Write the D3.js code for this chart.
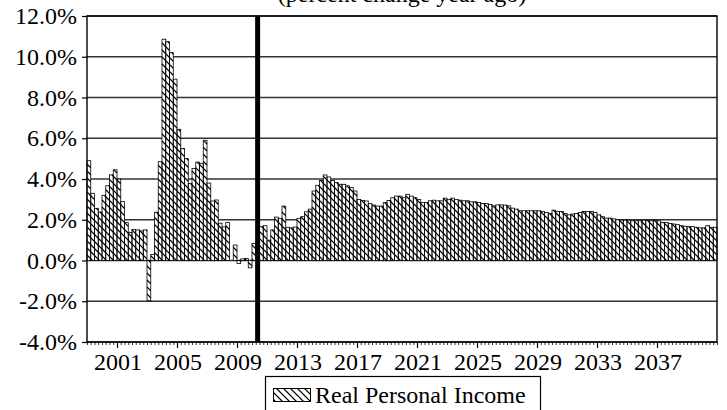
<!DOCTYPE html>
<html><head><meta charset="utf-8">
<script src="https://cdn.jsdelivr.net/npm/d3@7"></script>
<style>body{margin:0;background:#fff}</style>
</head><body><svg id="c" width="727" height="410"></svg>
<script>
// ---------- data ----------
const years = d3.range(1999, 2041);
const quarters = years.flatMap(yr => [1, 2, 3, 4].map(q => yr + "Q" + q));
const realIncome = [
  // 1999-2002
  4.9, 3.3, 2.56, 2.38, 3.2, 3.67, 4.2, 4.45, 4.0, 2.89, 1.86, 1.38, 1.53, 1.5, 1.45, 1.5,
  // 2003-2006
  -1.97, 0.3, 2.37, 4.85, 10.86, 10.74, 10.2, 8.9, 6.44, 5.5, 5.0, 3.78, 4.52, 4.83, 4.77, 5.9,
  // 2007-2010
  3.8, 2.92, 2.97, 1.83, 1.65, 1.86, 0.0, 0.76, -0.15, 0.08, 0.1, -0.36, 0.84, null, 1.66, 1.71,
  // 2011-2014
  1.0, 1.5, 2.13, 2.07, 2.67, 1.63, 1.6, 1.64, 2.07, 2.15, 2.39, 2.52, 3.41, 3.69, 3.93, 4.2,
  // 2015-2018
  4.1, 3.93, 3.82, 3.74, 3.74, 3.66, 3.58, 3.41, 3.0, 2.95, 2.92, 2.79, 2.72, 2.67, 2.67, 2.84,
  // 2019-2022
  2.95, 3.08, 3.16, 3.16, 3.08, 3.25, 3.16, 3.08, 3.0, 2.84, 2.84, 2.93, 2.96, 2.93, 2.93, 3.06,
  // 2023-2026
  3.0, 3.06, 3.0, 2.96, 2.93, 2.93, 2.88, 2.88, 2.85, 2.8, 2.8, 2.75, 2.68, 2.73, 2.73, 2.72,
  // 2027-2030
  2.68, 2.57, 2.52, 2.44, 2.44, 2.44, 2.44, 2.44, 2.44, 2.41, 2.36, 2.31, 2.47, 2.41, 2.41, 2.31,
  // 2031-2034
  2.24, 2.28, 2.31, 2.36, 2.41, 2.41, 2.41, 2.36, 2.24, 2.15, 2.08, 2.08, 2.04, 2.0, 1.98, 1.98,
  // 2035-2038
  1.98, 1.95, 1.95, 1.95, 1.98, 1.97, 1.95, 1.98, 1.95, 1.87, 1.87, 1.82, 1.79, 1.76, 1.71, 1.68,
  // 2039-2040
  1.66, 1.66, 1.63, 1.6, 1.6, 1.71, 1.63, 1.63
];
const yTickValues = [-4, -2, 0, 2, 4, 6, 8, 10, 12];
const xTickLabels = ["2001", "2005", "2009", "2013", "2017", "2021", "2025", "2029", "2033", "2037"];
const forecastMarker = "2010Q2";
const legendLabel = "Real Personal Income";
const titleText = "(percent change year ago)";

const FS = 24;
const FONT = "'Liberation Serif', 'Times New Roman'";
const svg = d3.select("#c");
const m = {left: 87, right: 717, top: 16, bottom: 342};

const x = d3.scaleBand().domain(quarters).range([m.left, m.right]).padding(0);
const xi = d3.scaleLinear().domain([0, quarters.length]).range([m.left, m.right]);
const y = d3.scaleLinear().domain([-4, 12]).range([m.bottom, m.top]);

// diagonal "\" hatch lines clipped analytically to a rectangle
function hatchPath(x0, y0, x1, y1, step) {
  let d = "";
  const cMin = Math.floor((x0 - y1) / step) * step;
  for (let c = cMin; c <= x1 - y0; c += step) {
    const xs = Math.max(x0, y0 + c), xe = Math.min(x1, y1 + c);
    if (xe > xs) d += `M${xs},${xs - c}L${xe},${xe - c}`;
  }
  return d;
}

// title (mostly cut off at top, as in the reference)
svg.append("text").attr("x", (m.left + m.right) / 2).attr("y", 2)
  .attr("text-anchor", "middle").attr("font-size", FS)
  .style("font-family", FONT)
  .text(titleText);

// gridlines
svg.append("g").selectAll("line").data(yTickValues).join("line")
  .attr("x1", m.left).attr("x2", m.right)
  .attr("y1", d => y(d)).attr("y2", d => y(d))
  .attr("stroke", "#333").attr("stroke-width", 1.4);

// bars
const barData = quarters.map((q, i) => ({q, v: realIncome[i]})).filter(d => d.v !== null)
  .map(d => ({...d, x0: x(d.q), x1: x(d.q) + x.bandwidth(),
               y0: y(Math.max(0, d.v)), y1: y(Math.min(0, d.v))}));
const bars = svg.append("g");
bars.selectAll("rect.bg").data(barData).join("rect").attr("class", "bg")
  .attr("x", d => d.x0).attr("width", d => d.x1 - d.x0)
  .attr("y", d => d.y0).attr("height", d => d.y1 - d.y0)
  .attr("fill", "#fff");
bars.selectAll("path").data(barData).join("path")
  .attr("d", d => hatchPath(d.x0, d.y0, d.x1, d.y1, 7))
  .attr("stroke", "#000").attr("stroke-width", 1.1).attr("fill", "none");
bars.selectAll("rect.ol").data(barData).join("rect").attr("class", "ol")
  .attr("x", d => d.x0).attr("width", d => d.x1 - d.x0)
  .attr("y", d => d.y0).attr("height", d => d.y1 - d.y0)
  .attr("fill", "none").attr("stroke", "#000").attr("stroke-width", 0.8);

// forecast marker line
svg.append("line")
  .attr("x1", x(forecastMarker) + x.bandwidth() / 2).attr("x2", x(forecastMarker) + x.bandwidth() / 2)
  .attr("y1", m.top).attr("y2", m.bottom)
  .attr("stroke", "#000").attr("stroke-width", 5);

// plot border
svg.append("rect").attr("x", m.left).attr("y", m.top)
  .attr("width", m.right - m.left).attr("height", m.bottom - m.top)
  .attr("fill", "none").attr("stroke", "#000").attr("stroke-width", 1.4);

// y axis ticks
const yAxis = svg.append("g").attr("transform", `translate(${m.left},0)`)
  .call(d3.axisLeft(y).tickValues(yTickValues).tickSize(5).tickFormat(""));
yAxis.attr("font-family", null).attr("font-size", null);
yAxis.select(".domain").remove();
yAxis.selectAll("text").remove();
yAxis.selectAll("line").attr("stroke", "#000").attr("stroke-width", 1.2);
svg.append("g").selectAll("text").data(yTickValues).join("text")
  .attr("x", m.left - 10).attr("y", d => y(d) + 8)
  .attr("text-anchor", "end").attr("font-size", FS)
  .style("font-family", FONT)
  .text(d => d.toFixed(1) + "%");

// x axis minor ticks (quarters)
const xMinor = svg.append("g").attr("transform", `translate(0,${m.bottom})`)
  .call(d3.axisBottom(xi).tickValues(d3.range(0, quarters.length + 1)).tickSize(3).tickFormat(""));
xMinor.attr("font-family", null).attr("font-size", null);
xMinor.select(".domain").remove();
xMinor.selectAll("text").remove();
xMinor.selectAll("line").attr("stroke", "#000").attr("stroke-width", 0.8);

// x axis major ticks and labels
const majorIdx = xTickLabels.map(l => quarters.indexOf(l + "Q1"));
const xMajor = svg.append("g").attr("transform", `translate(0,${m.bottom})`)
  .call(d3.axisBottom(xi).tickValues(majorIdx).tickSize(6).tickFormat(""));
xMajor.attr("font-family", null).attr("font-size", null);
xMajor.select(".domain").remove();
xMajor.selectAll("text").remove();
xMajor.selectAll("line").attr("stroke", "#000").attr("stroke-width", 1.2);
svg.append("g").selectAll("text").data(majorIdx).join("text")
  .attr("x", d => xi(d) + 1).attr("y", m.bottom + 28)
  .attr("text-anchor", "middle").attr("font-size", FS)
  .style("font-family", FONT)
  .text((d, i) => xTickLabels[i]);

// legend
const lg = svg.append("g");
lg.append("rect").attr("x", 265.5).attr("y", 376.5).attr("width", 275).attr("height", 40)
  .attr("fill", "#fff").attr("stroke", "#000").attr("stroke-width", 1.2);
lg.append("path").attr("d", hatchPath(273.5, 388.5, 310.5, 401.5, 7))
  .attr("stroke", "#000").attr("stroke-width", 1.1).attr("fill", "none");
lg.append("rect").attr("x", 273.5).attr("y", 388.5).attr("width", 37).attr("height", 13)
  .attr("fill", "none").attr("stroke", "#000").attr("stroke-width", 1);
lg.append("text").attr("x", 315).attr("y", 403).attr("font-size", FS)
  .style("font-family", FONT)
  .text(legendLabel);
</script>
</body></html>
